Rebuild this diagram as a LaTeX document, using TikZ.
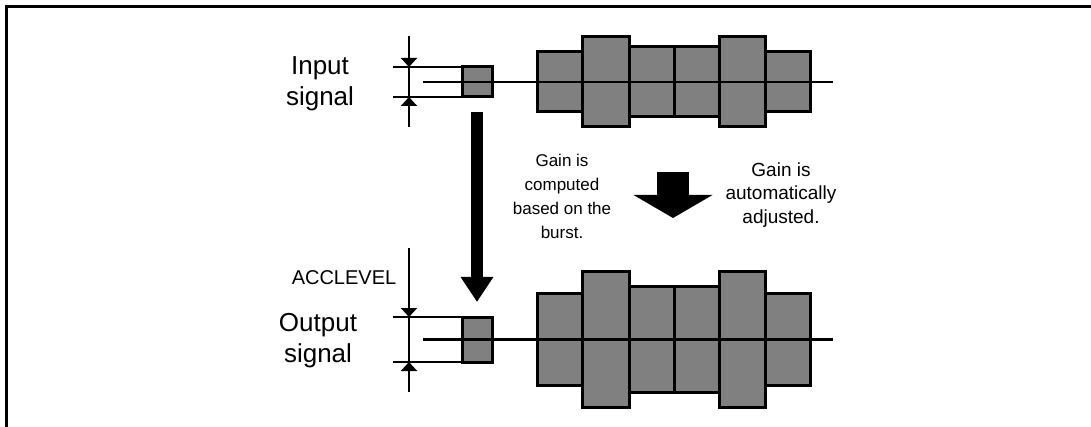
\documentclass[tikz,border=0pt]{standalone}
\usepackage{fontspec}
\setmainfont{Liberation Sans}
\usetikzlibrary{arrows.meta}

\tikzset{
  pulse/.style={draw, line width=3pt, fill=black!50},
  refbox/.style={pulse, inner sep=0pt, outer sep=0pt, minimum width=30pt},
  axisline/.style={line width=2.8pt},
  dimline/.style={line width=2pt},
  dimarrow/.style={dimline, -{Triangle[width=16pt,length=9pt]}},
  txt/.style={align=center, inner sep=0pt},
}

\begin{document}
\begin{tikzpicture}[x=1pt, y=-1pt]
  \useasboundingbox (0,0) rectangle (1091,427);
  \draw[line width=3pt] (1091,7) -- (6,7) -- (6,427);

  \def\cin{82}
  \def\cout{339.5}
  % bursts: left edge / right edge / half height of the input burst
  \foreach \xa/\xb/\h in {537/582/30, 582/629/45, 629/674/35, 674/719/35, 719/765/45, 765/810/30} {
    \draw[pulse] (\xa,{\cin-\h}) rectangle (\xb,{\cin+\h});
    \draw[pulse] (\xa,{\cout-1.52*\h}) rectangle (\xb,{\cout+1.52*\h});
  }

  \node[refbox, minimum height=30pt] (inbox) at (477,\cin) {};
  \node[refbox, minimum height=45pt] (outbox) at (477,\cout) {};

  \coordinate (inL) at (423,\cin);
  \coordinate (inR) at (833,\cin);
  \coordinate (outL) at (423,\cout);
  \coordinate (outR) at (833,\cout);
  \draw[axisline] (inL) -- (inR);
  \draw[axisline] (outL) -- (outR);

  % level marks
  \coordinate (indimT) at (409,36);
  \coordinate (indimB) at (409,127);
  \coordinate (outdimT) at (409,248);
  \coordinate (outdimB) at (409,392);
  \draw[dimline] (inbox.north west) -- ++(-69,0);
  \draw[dimline] (inbox.south west) -- ++(-69,0);
  \draw[dimline] (outbox.north west) -- ++(-69,0);
  \draw[dimline] (outbox.south west) -- ++(-69,0);
  \draw[dimline] (indimT) -- (indimB);
  \draw[dimline] (outdimT) -- (outdimB);
  \draw[dimarrow] (indimT) -- (indimT |- inbox.north);
  \draw[dimarrow] (indimB) -- (indimB |- inbox.south);
  \draw[dimarrow] (outdimT) -- (outdimT |- outbox.north);
  \draw[dimarrow] (outdimB) -- (outdimB |- outbox.south);

  \node[txt, font=\fontsize{26}{31}\selectfont] (intext) at (320,84) {Input\\signal};
  \node[txt, font=\fontsize{26}{31}\selectfont] (outtext) at (318,341) {Output\\signal};
  \node[txt, font=\fontsize{20}{24}\selectfont] (acclevel) at (344,278) {ACCLEVEL};

  \draw[line width=12pt, -{Triangle[width=31pt,length=25pt]}, shorten <=15pt, shorten >=15pt]
    (inbox.south) -- (outbox.north);

  \coordinate (adjT) at (673,172);
  \coordinate (adjB) at (673,218);
  \draw[line width=32pt, -{Triangle[width=78pt,length=23pt]}] (adjT) -- (adjB);

  \node[txt, font=\fontsize{17}{24}\selectfont] (computed) at (562,196)
    {Gain is\\computed\\based on the\\burst.};
  \node[txt, font=\fontsize{19}{23.5}\selectfont] (adjusted) at (781,195)
    {Gain is\\automatically\\adjusted.};
\end{tikzpicture}
\end{document}
